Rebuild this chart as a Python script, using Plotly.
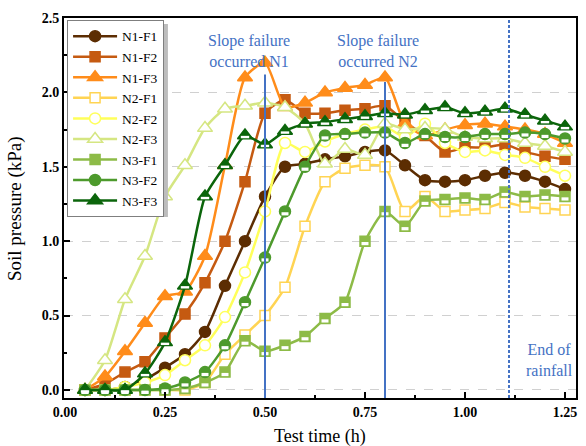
import plotly.graph_objects as go

# ---------------- data ----------------
time_h = [0.05, 0.10, 0.15, 0.20, 0.25, 0.30, 0.35, 0.40, 0.45, 0.50, 0.55, 0.60, 0.65,
          0.70, 0.75, 0.80, 0.85, 0.90, 0.95, 1.00, 1.05, 1.10, 1.15, 1.20, 1.25]

n1_f1 = [0.00, 0.00, 0.02, 0.07, 0.15, 0.24, 0.39, 0.70, 1.00, 1.30, 1.50, 1.52, 1.55,
         1.57, 1.60, 1.61, 1.51, 1.41, 1.40, 1.41, 1.44, 1.46, 1.44, 1.40, 1.35]
n1_f2 = [0.00, 0.04, 0.12, 0.19, 0.35, 0.51, 0.72, 1.00, 1.40, 1.86, 1.95, 1.86, 1.86,
         1.88, 1.89, 1.91, 1.80, 1.71, 1.60, 1.63, 1.63, 1.65, 1.60, 1.57, 1.55]
n1_f3 = [0.00, 0.09, 0.26, 0.45, 0.63, 0.66, 0.90, 1.51, 2.10, 2.20, 1.90, 1.93, 2.00,
         2.03, 2.05, 2.10, 1.79, 1.71, 1.75, 1.78, 1.79, 1.77, 1.75, 1.72, 1.66]
n2_f1 = [0.00, 0.00, 0.00, 0.00, 0.00, 0.00, 0.05, 0.24, 0.37, 0.50, 0.69, 1.10, 1.40,
         1.49, 1.51, 1.50, 1.20, 1.30, 1.20, 1.21, 1.22, 1.26, 1.23, 1.22, 1.21]
n2_f2 = [0.00, 0.00, 0.02, 0.05, 0.10, 0.20, 0.30, 0.49, 0.79, 1.20, 1.66, 1.60, 1.67,
         1.72, 1.75, 1.77, 1.70, 1.79, 1.66, 1.60, 1.61, 1.58, 1.56, 1.50, 1.44]
n2_f3 = [0.00, 0.20, 0.61, 0.90, 1.30, 1.51, 1.76, 1.89, 1.91, 1.93, 1.90, 1.79, 1.52,
         1.62, 1.58, 1.79, 1.75, 1.76, 1.75, 1.70, 1.69, 1.69, 1.66, 1.64, 1.60]
n3_f1 = [0.00, 0.00, 0.00, 0.00, 0.00, 0.01, 0.05, 0.12, 0.33, 0.26, 0.30, 0.36, 0.48,
         0.59, 1.00, 1.20, 1.10, 1.27, 1.28, 1.29, 1.28, 1.33, 1.30, 1.31, 1.30]
n3_f2 = [0.00, 0.00, 0.00, 0.00, 0.01, 0.05, 0.12, 0.30, 0.59, 0.89, 1.20, 1.50, 1.71,
         1.72, 1.73, 1.73, 1.66, 1.72, 1.70, 1.70, 1.72, 1.72, 1.73, 1.72, 1.69]
n3_f3 = [0.00, 0.00, 0.00, 0.11, 0.32, 0.70, 1.30, 1.51, 1.71, 1.65, 1.74, 1.79, 1.80,
         1.82, 1.84, 1.86, 1.85, 1.88, 1.90, 1.86, 1.87, 1.89, 1.85, 1.81, 1.77]

series_names = ["N1-F1", "N1-F2", "N1-F3", "N2-F1", "N2-F2", "N2-F3", "N3-F1", "N3-F2", "N3-F3"]
series_values = [n1_f1, n1_f2, n1_f3, n2_f1, n2_f2, n2_f3, n3_f1, n3_f2, n3_f3]

failure_times = [0.50, 0.80]
failure_tops = [2.12, 2.07]
failure_labels = ["Slope failure<br>occurred N1", "Slope failure<br>occurred N2"]
rain_end_time = 1.11
rain_end_label = "End of<br>rainfall"

x_title = "Test time (h)"
y_title = "Soil pressure (kPa)"
x_ticks = [0.00, 0.25, 0.50, 0.75, 1.00, 1.25]
x_tick_text = ["0.00", "0.25", "0.50", "0.75", "1.00", "1.25"]
y_ticks = [0.0, 0.5, 1.0, 1.5, 2.0, 2.5]
y_tick_text = ["0.0", "0.5", "1.0", "1.5", "2.0", "2.5"]

# ---------------- styles ----------------
styles = {
    "N1-F1": ("#5C2D02", "circle", "full", 11),
    "N1-F2": ("#C55A11", "square", "full", 10),
    "N1-F3": ("#FF8C1A", "triangle-up", "full", 13),
    "N2-F1": ("#FFD453", "square", "open", 10),
    "N2-F2": ("#FFFF5A", "circle", "open", 11),
    "N2-F3": ("#D5E682", "triangle-up", "open", 13),
    "N3-F1": ("#8DBB47", "square", "half", 10),
    "N3-F2": ("#4D9A2C", "circle", "half", 11),
    "N3-F3": ("#0B650B", "triangle-up", "half", 13),
}
# white band (size, downward offset px, thickness px) for half-filled markers
band_style = {"square": (5, 2.4, 3.2), "circle": (5, 2.4, 3.2), "triangle-up": (6, 1.5, 2.4)}
label_shifts = [-16, -7]

YR = [-0.054, 2.5]

fig = go.Figure()
for name, vals in zip(series_names, series_values):
    col, sym, mode, size = styles[name]
    fill = "white" if mode == "open" else col
    fig.add_trace(go.Scatter(
        x=time_h, y=vals, name=name, mode="lines+markers",
        line=dict(color=col, width=2.5, shape="spline", smoothing=0.6),
        marker=dict(symbol=sym, size=size, color=fill, line=dict(color=col, width=1.5)),
    ))

# white bands on the lower half of the "half-filled" markers (band moved down by standoff)
for name, vals in zip(series_names, series_values):
    col, sym, mode, size = styles[name]
    if mode == "half":
        bsize, boff, bwidth = band_style[sym]
        fig.add_trace(go.Scatter(
            x=time_h, y=vals, mode="markers", showlegend=False, hoverinfo="skip",
            marker=dict(symbol="line-ew", size=bsize, color="white", angle=0, standoff=boff,
                        line=dict(color="white", width=bwidth)),
        ))

blue = "#4472C4"
for t, top, lab, dx in zip(failure_times, failure_tops, failure_labels, label_shifts):
    fig.add_shape(type="line", xref="x", yref="y", x0=t, x1=t, y0=YR[0], y1=top,
                  line=dict(color=blue, width=2))
    fig.add_annotation(x=t, y=2.5, xref="x", yref="y", text=lab, showarrow=False,
                       xanchor="center", yanchor="top", yshift=-12, xshift=dx,
                       font=dict(family="Liberation Serif", size=16, color=blue),
                       align="center")
fig.add_shape(type="line", xref="x", yref="paper", x0=rain_end_time, x1=rain_end_time,
              y0=0, y1=1, line=dict(color=blue, width=2, dash="3px,2px"))
fig.add_annotation(x=1.21, y=0.0, xref="x", yref="y", text=rain_end_label, showarrow=False,
                   xanchor="center", yanchor="bottom", yshift=9,
                   font=dict(family="Liberation Serif", size=16, color=blue), align="center")

# axis titles
fig.add_annotation(x=0.5, y=0, xref="paper", yref="paper", text=x_title, showarrow=False,
                   xanchor="center", yanchor="top", yshift=-26,
                   font=dict(family="Liberation Serif", size=18, color="black"))
fig.add_annotation(x=0, y=0.5, xref="paper", yref="paper", text=y_title, showarrow=False,
                   textangle=-90, xanchor="right", yanchor="middle", xshift=-36,
                   font=dict(family="Liberation Serif", size=19, color="black"))

# legend shadow
fig.add_shape(type="rect", xref="paper", yref="paper", x0=0.0137, x1=0.203, y0=0.476, y1=0.984,
              fillcolor="#BDBDBD", line=dict(width=0), layer="above")

axis_font = dict(family="Liberation Serif", size=14, color="black", weight="bold")
fig.update_layout(
    width=586, height=446,
    margin=dict(l=64, r=10, t=18, b=48),
    paper_bgcolor="white", plot_bgcolor="white",
    font=dict(family="Liberation Serif", color="black"),
    xaxis=dict(range=[-0.0025, 1.2775], tickvals=x_ticks, ticktext=x_tick_text,
               ticks="inside", ticklen=6, tickwidth=1.5, tickcolor="black",
               minor=dict(ticks="inside", ticklen=3, tickwidth=1.5, tickcolor="black", dtick=0.125),
               showline=True, linecolor="black", linewidth=1.8, mirror=True,
               showgrid=False, zeroline=False, tickfont=axis_font, automargin=False),
    yaxis=dict(range=YR, tickvals=y_ticks, ticktext=y_tick_text,
               ticks="inside", ticklen=6, tickwidth=1.5, tickcolor="black",
               minor=dict(ticks="inside", ticklen=3, tickwidth=1.5, tickcolor="black", dtick=0.25,
                          showgrid=False),
               showline=True, linecolor="black", linewidth=1.8, mirror=True,
               showgrid=True, gridcolor="#D0D0D0", griddash="dash", gridwidth=1,
               zeroline=False, tickfont=axis_font, automargin=False),
    legend=dict(x=0.006, y=0.995, xanchor="left", yanchor="top",
                bgcolor="white", bordercolor="#7F7F7F", borderwidth=1,
                font=dict(family="Liberation Serif", size=13.5), itemwidth=44,
                tracegroupgap=0),
    showlegend=True,
)

fig.write_html("out.html")
